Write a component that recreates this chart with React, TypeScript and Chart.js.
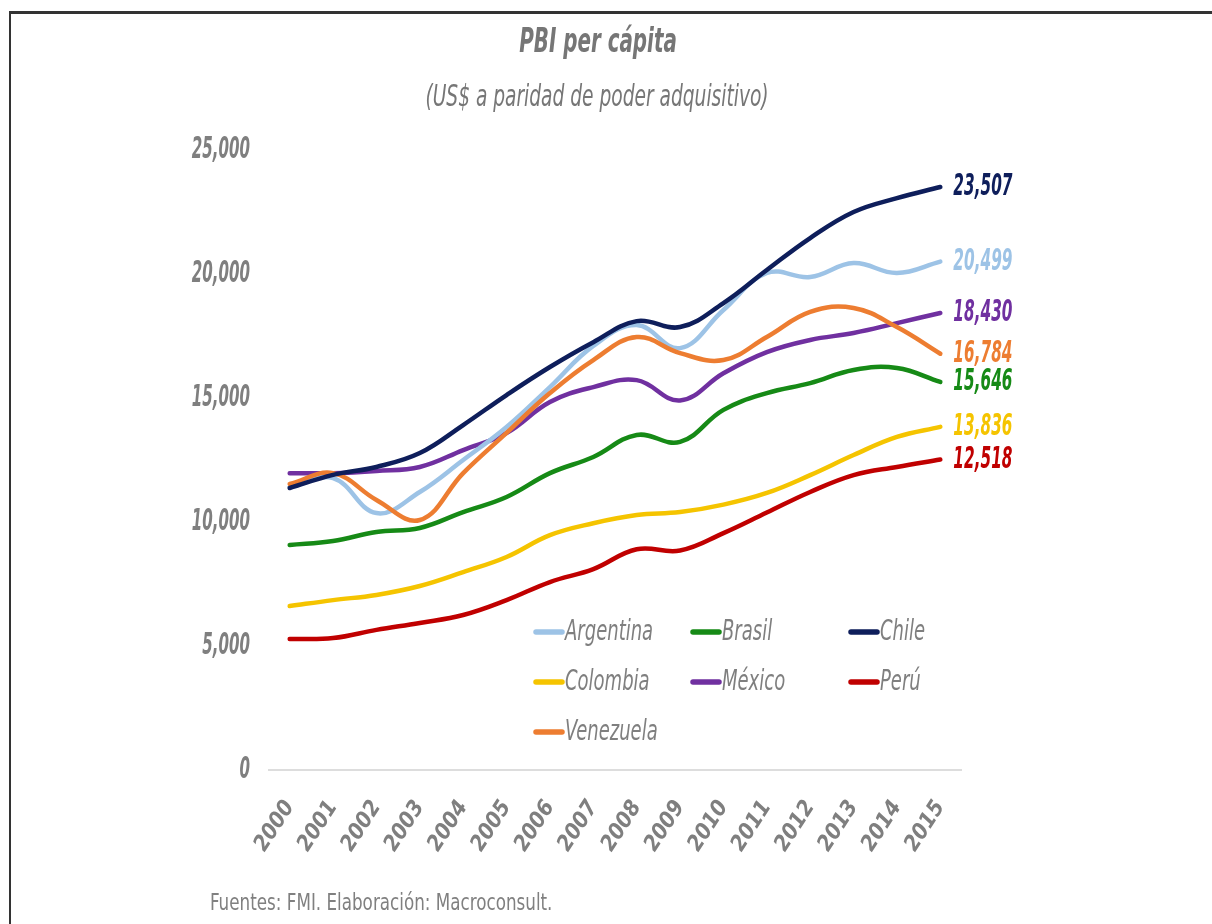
import React, { useEffect, useRef } from 'react';
import { Chart, registerables } from 'chart.js';

Chart.register(...registerables);

const years = ['2000', '2001', '2002', '2003', '2004', '2005', '2006', '2007', '2008', '2009', '2010', '2011', '2012', '2013', '2014', '2015'];
const yTicks = [0, 5000, 10000, 15000, 20000, 25000];

const argentina = [11400, 11770, 10360, 11210, 12500, 13830, 15440, 17100, 17940, 17010, 18550, 20040, 19880, 20440, 20040, 20499];
const brasil = [9070, 9230, 9600, 9760, 10400, 11010, 11970, 12620, 13510, 13230, 14520, 15200, 15600, 16130, 16210, 15646];
const chile = [11370, 11900, 12220, 12780, 13910, 15120, 16250, 17250, 18100, 17860, 18830, 20160, 21450, 22500, 23060, 23507];
const colombia = [6610, 6850, 7060, 7420, 7980, 8590, 9470, 9950, 10280, 10400, 10700, 11170, 11890, 12700, 13430, 13836];
const mexico = [11970, 11970, 12060, 12220, 12900, 13590, 14840, 15440, 15720, 14900, 16000, 16850, 17340, 17620, 18020, 18430];
const peru = [5280, 5320, 5650, 5930, 6250, 6850, 7580, 8100, 8900, 8850, 9550, 10380, 11210, 11890, 12220, 12518];
const venezuela = [11530, 11970, 10890, 10080, 11970, 13590, 15200, 16530, 17460, 16810, 16530, 17460, 18470, 18630, 17860, 16784];

const seriesNames = ['Argentina', 'Brasil', 'Chile', 'Colombia', 'México', 'Perú', 'Venezuela'];
const seriesValues = [argentina, brasil, chile, colombia, mexico, peru, venezuela];
const seriesColors = ['#9DC3E6', '#168A16', '#0E1E5B', '#F5C400', '#7030A0', '#C00000', '#ED7D31'];
const seriesOrder = [3, 5, 1, 6, 4, 7, 2];

const titleText = 'PBI per cápita';
const subtitleText = '(US$ a paridad de poder adquisitivo)';
const footerText = 'Fuentes: FMI. Elaboración: Macroconsult.';

const FF = "'DejaVu Sans Condensed', 'DejaVu Sans', sans-serif";
const GRAY = '#7F7F7F';

const fmt = (v: number) => v.toLocaleString('en-US');

function drawText(ctx: CanvasRenderingContext2D, text: string, x: number, y: number, font: string, color: string, sx: number, align: CanvasTextAlign) {
  ctx.save();
  ctx.font = font;
  ctx.fillStyle = color;
  ctx.textBaseline = 'middle';
  ctx.textAlign = align;
  ctx.translate(x, y);
  ctx.scale(sx, 1);
  ctx.fillText(text, 0, 0);
  ctx.restore();
}

const textPlugin = {
  id: 'textPlugin',
  afterDraw(chart: any) {
    const ctx: CanvasRenderingContext2D = chart.ctx;
    ctx.save();
    drawText(ctx, titleText, 598, 43, `italic bold 33px ${FF}`, '#767676', 0.67, 'center');
    drawText(ctx, subtitleText, 597, 98, `italic 30px ${FF}`, '#767676', 0.69, 'center');
    drawText(ctx, footerText, 210, 904, `23px ${FF}`, '#808080', 0.81, 'left');

    // y tick labels from the y scale
    const ys = chart.scales.y;
    ys.ticks.forEach((t: any, i: number) => {
      const py = ys.getPixelForTick(i);
      drawText(ctx, fmt(t.value), 250, py, `italic bold 30px ${FF}`, GRAY, 0.56, 'right');
    });

    // legend
    const colX = [533, 690, 848];
    const rowY = [632, 682, 732];
    chart.data.datasets.forEach((ds: any, i: number) => {
      const x = colX[i % 3];
      const y = rowY[Math.floor(i / 3)];
      ctx.strokeStyle = ds.borderColor;
      ctx.lineWidth = 5.5;
      ctx.lineCap = 'round';
      ctx.beginPath();
      ctx.moveTo(x + 3, y);
      ctx.lineTo(x + 29, y);
      ctx.stroke();
      drawText(ctx, ds.label, x + 32, y, `italic 29px ${FF}`, GRAY, 0.69, 'left');
    });

    // end labels
    chart.data.datasets.forEach((ds: any, i: number) => {
      const meta = chart.getDatasetMeta(i);
      const pt = meta.data[meta.data.length - 1];
      const v = ds.data[ds.data.length - 1];
      drawText(ctx, fmt(v), pt.x + 13, pt.y, `italic bold 31px ${FF}`, ds.borderColor, 0.55, 'left');
    });
    ctx.restore();
  },
};

export default function App() {
  const ref = useRef<HTMLCanvasElement>(null);
  useEffect(() => {
    if (!ref.current) return;
    const chart = new Chart(ref.current, {
      type: 'line',
      data: {
        labels: years,
        datasets: seriesNames.map((name, i) => ({
          label: name,
          data: seriesValues[i],
          borderColor: seriesColors[i],
          backgroundColor: seriesColors[i],
          borderWidth: 4.5,
          pointRadius: 0,
          tension: 0.4,
          fill: false,
          order: seriesOrder[i],
          borderCapStyle: 'round',
        })),
      },
      options: {
        animation: false,
        responsive: false,
        devicePixelRatio: 1,
        layout: { padding: { left: 0, right: 250, top: 150, bottom: 0 } },
        plugins: {
          legend: { display: false },
          title: { display: false },
          tooltip: { enabled: false },
        },
        scales: {
          x: {
            offset: true,
            grid: { display: false },
            border: { display: false },
            ticks: {
              minRotation: 57,
              maxRotation: 57,
              color: GRAY,
              padding: 18,
              font: { family: FF, size: 22, style: 'italic', weight: 'bold' },
            },
            afterFit: (s: any) => { s.height = 154; },
          },
          y: {
            min: 0,
            max: 25000,
            afterBuildTicks: (axis: any) => { axis.ticks = yTicks.map((v) => ({ value: v })); },
            ticks: {
              display: false,
              callback: (v: any) => fmt(Number(v)),
            },
            grid: {
              drawTicks: false,
              lineWidth: 2,
              color: (c: any) => (c.tick && c.tick.value === 0 ? '#DDDDDD' : 'rgba(0,0,0,0)'),
            },
            border: { display: false },
            afterFit: (s: any) => { s.width = 268; },
          },
        },
      },
      plugins: [textPlugin],
    } as any);
    return () => chart.destroy();
  }, []);

  return (
    <div style={{ position: 'absolute', left: 0, top: 0, width: 1212, height: 924, background: '#fff' }}>
      <canvas ref={ref} width={1212} height={924} style={{ position: 'absolute', left: 0, top: 0, width: 1212, height: 924 }} />
      <div style={{ position: 'absolute', left: 9, top: 11, width: 1203, height: 913, borderTop: '3px solid #333', borderLeft: '2px solid #333', pointerEvents: 'none', boxSizing: 'border-box' }} />
    </div>
  );
}
